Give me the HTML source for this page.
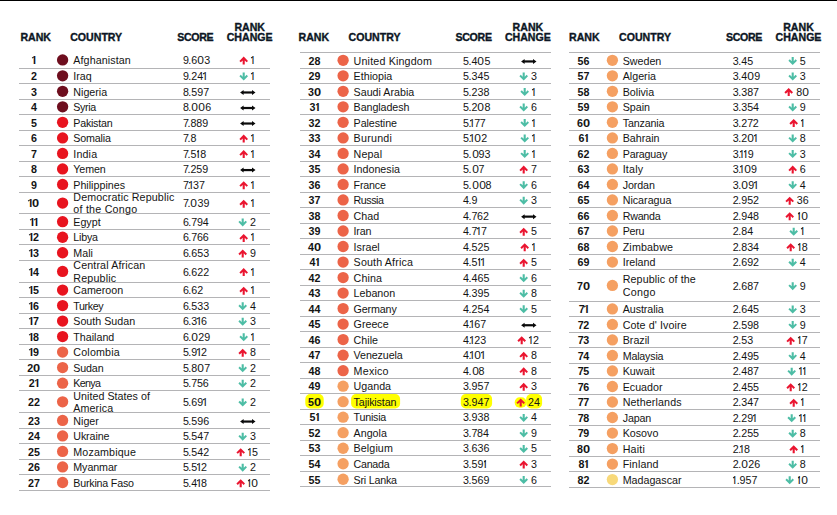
<!DOCTYPE html>
<html><head><meta charset="utf-8"><style>
*{margin:0;padding:0;box-sizing:border-box}
html,body{width:837px;height:515px;overflow:hidden;background:#fff}
body{position:relative;font-family:"Liberation Sans",sans-serif;color:#141414;font-size:10.70px}
.t{position:absolute;white-space:nowrap;line-height:12px;height:12px}
.h{position:absolute;white-space:nowrap;font-weight:bold;font-size:10.6px;line-height:12px;color:#0c1624;-webkit-text-stroke:0.35px #0c1624}
.c{text-align:center}
.b{font-weight:bold}
.o{display:inline-block;width:3.85px;padding-left:0.45px;position:relative}
.o::before{content:'';position:absolute;left:0.15px;top:2.9px;width:1.6px;height:1.1px;background:currentColor;transform:rotate(-38deg)}
.b .o{width:4.2px;padding-left:1.2px}
.b .o::before{left:0.3px;top:2.6px;width:2px;height:1.3px}
.z{display:inline-block;width:7px;text-align:center;transform:scaleX(1.12)}
.b .z{width:7.3px;transform:scaleX(1.2)}
.rc{position:absolute;white-space:nowrap;line-height:12px;height:12px;display:flex;align-items:flex-start;justify-content:center}
.ar{display:block;margin-right:2px}
.dar{display:block}
svg.ov{position:absolute;left:0;top:0}
</style></head><body>

<svg class="ov" width="837" height="515" viewBox="0 0 837 515">
<rect x="0" y="0" width="837" height="1" fill="#000"/>
<rect x="19" y="68" width="251" height="1" fill="#b4b4b6"/>
<rect x="19" y="83" width="251" height="1" fill="#b4b4b6"/>
<rect x="19" y="99" width="251" height="1" fill="#b4b4b6"/>
<rect x="19" y="114" width="251" height="1" fill="#b4b4b6"/>
<rect x="19" y="130" width="251" height="1" fill="#b4b4b6"/>
<rect x="19" y="145" width="251" height="1" fill="#b4b4b6"/>
<rect x="19" y="161" width="251" height="1" fill="#b4b4b6"/>
<rect x="19" y="176" width="251" height="1" fill="#b4b4b6"/>
<rect x="19" y="192" width="251" height="1" fill="#b4b4b6"/>
<rect x="19" y="213" width="251" height="1" fill="#b4b4b6"/>
<rect x="19" y="229" width="251" height="1" fill="#b4b4b6"/>
<rect x="19" y="244" width="251" height="1" fill="#b4b4b6"/>
<rect x="19" y="260" width="251" height="1" fill="#b4b4b6"/>
<rect x="19" y="282" width="251" height="1" fill="#b4b4b6"/>
<rect x="19" y="297" width="251" height="1" fill="#b4b4b6"/>
<rect x="19" y="313" width="251" height="1" fill="#b4b4b6"/>
<rect x="19" y="328" width="251" height="1" fill="#b4b4b6"/>
<rect x="19" y="344" width="251" height="1" fill="#b4b4b6"/>
<rect x="19" y="359" width="251" height="1" fill="#b4b4b6"/>
<rect x="19" y="375" width="251" height="1" fill="#b4b4b6"/>
<rect x="19" y="390" width="251" height="1" fill="#b4b4b6"/>
<rect x="19" y="412" width="251" height="1" fill="#b4b4b6"/>
<rect x="19" y="428" width="251" height="1" fill="#b4b4b6"/>
<rect x="19" y="443" width="251" height="1" fill="#b4b4b6"/>
<rect x="19" y="459" width="251" height="1" fill="#b4b4b6"/>
<rect x="19" y="474" width="251" height="1" fill="#b4b4b6"/>
<rect x="19" y="490" width="251" height="1" fill="#b4b4b6"/>
<circle cx="62.60" cy="59.90" r="5.65" fill="#6e0e1e"/>
<circle cx="62.60" cy="75.82" r="5.65" fill="#6e0e1e"/>
<circle cx="62.60" cy="91.33" r="5.65" fill="#6e0e1e"/>
<circle cx="62.60" cy="106.85" r="5.65" fill="#6e0e1e"/>
<circle cx="62.60" cy="122.37" r="5.65" fill="#e8141f"/>
<circle cx="62.60" cy="137.89" r="5.65" fill="#e8141f"/>
<circle cx="62.60" cy="153.41" r="5.65" fill="#e8141f"/>
<circle cx="62.60" cy="168.92" r="5.65" fill="#e8141f"/>
<circle cx="62.60" cy="184.44" r="5.65" fill="#e8141f"/>
<circle cx="62.60" cy="203.09" r="5.65" fill="#e8141f"/>
<circle cx="62.60" cy="221.72" r="5.65" fill="#e8141f"/>
<circle cx="62.60" cy="237.24" r="5.65" fill="#e8141f"/>
<circle cx="62.60" cy="252.75" r="5.65" fill="#e8141f"/>
<circle cx="62.60" cy="271.40" r="5.65" fill="#e8141f"/>
<circle cx="62.60" cy="290.03" r="5.65" fill="#e8141f"/>
<circle cx="62.60" cy="305.55" r="5.65" fill="#e8141f"/>
<circle cx="62.60" cy="321.07" r="5.65" fill="#e8141f"/>
<circle cx="62.60" cy="336.58" r="5.65" fill="#e8141f"/>
<circle cx="62.60" cy="352.10" r="5.65" fill="#ec6448"/>
<circle cx="62.60" cy="367.62" r="5.65" fill="#ec6448"/>
<circle cx="62.60" cy="383.13" r="5.65" fill="#ec6448"/>
<circle cx="62.60" cy="401.78" r="5.65" fill="#ec6448"/>
<circle cx="62.60" cy="420.41" r="5.65" fill="#ec6448"/>
<circle cx="62.60" cy="435.93" r="5.65" fill="#ec6448"/>
<circle cx="62.60" cy="451.45" r="5.65" fill="#ec6448"/>
<circle cx="62.60" cy="466.96" r="5.65" fill="#ec6448"/>
<circle cx="62.60" cy="482.48" r="5.65" fill="#ec6448"/>
<rect x="300" y="52" width="251" height="1" fill="#b4b4b6"/>
<rect x="300" y="68" width="251" height="1" fill="#b4b4b6"/>
<rect x="300" y="83" width="251" height="1" fill="#b4b4b6"/>
<rect x="300" y="99" width="251" height="1" fill="#b4b4b6"/>
<rect x="300" y="114" width="251" height="1" fill="#b4b4b6"/>
<rect x="300" y="130" width="251" height="1" fill="#b4b4b6"/>
<rect x="300" y="145" width="251" height="1" fill="#b4b4b6"/>
<rect x="300" y="161" width="251" height="1" fill="#b4b4b6"/>
<rect x="300" y="176" width="251" height="1" fill="#b4b4b6"/>
<rect x="300" y="192" width="251" height="1" fill="#b4b4b6"/>
<rect x="300" y="207" width="251" height="1" fill="#b4b4b6"/>
<rect x="300" y="223" width="251" height="1" fill="#b4b4b6"/>
<rect x="300" y="238" width="251" height="1" fill="#b4b4b6"/>
<rect x="300" y="254" width="251" height="1" fill="#b4b4b6"/>
<rect x="300" y="269" width="251" height="1" fill="#b4b4b6"/>
<rect x="300" y="285" width="251" height="1" fill="#b4b4b6"/>
<rect x="300" y="300" width="251" height="1" fill="#b4b4b6"/>
<rect x="300" y="316" width="251" height="1" fill="#b4b4b6"/>
<rect x="300" y="331" width="251" height="1" fill="#b4b4b6"/>
<rect x="300" y="347" width="251" height="1" fill="#b4b4b6"/>
<rect x="300" y="362" width="251" height="1" fill="#b4b4b6"/>
<rect x="300" y="378" width="251" height="1" fill="#b4b4b6"/>
<rect x="300" y="393" width="251" height="1" fill="#b4b4b6"/>
<rect x="300" y="409" width="251" height="1" fill="#b4b4b6"/>
<rect x="300" y="424" width="251" height="1" fill="#b4b4b6"/>
<rect x="300" y="440" width="251" height="1" fill="#b4b4b6"/>
<rect x="300" y="455" width="251" height="1" fill="#b4b4b6"/>
<rect x="300" y="471" width="251" height="1" fill="#b4b4b6"/>
<rect x="300" y="486" width="251" height="1" fill="#b4b4b6"/>
<circle cx="343.10" cy="60.30" r="5.65" fill="#ec6448"/>
<circle cx="343.10" cy="75.82" r="5.65" fill="#ec6448"/>
<circle cx="343.10" cy="91.33" r="5.65" fill="#ec6448"/>
<circle cx="343.10" cy="106.85" r="5.65" fill="#ec6448"/>
<circle cx="343.10" cy="122.37" r="5.65" fill="#ec6448"/>
<circle cx="343.10" cy="137.89" r="5.65" fill="#ec6448"/>
<circle cx="343.10" cy="153.41" r="5.65" fill="#ec6448"/>
<circle cx="343.10" cy="168.92" r="5.65" fill="#ec6448"/>
<circle cx="343.10" cy="184.44" r="5.65" fill="#ec6448"/>
<circle cx="343.10" cy="199.96" r="5.65" fill="#ec6448"/>
<circle cx="343.10" cy="215.48" r="5.65" fill="#ec6448"/>
<circle cx="343.10" cy="230.99" r="5.65" fill="#ec6448"/>
<circle cx="343.10" cy="246.51" r="5.65" fill="#ec6448"/>
<circle cx="343.10" cy="262.03" r="5.65" fill="#ec6448"/>
<circle cx="343.10" cy="277.55" r="5.65" fill="#ec6448"/>
<circle cx="343.10" cy="293.06" r="5.65" fill="#ec6448"/>
<circle cx="343.10" cy="308.58" r="5.65" fill="#ec6448"/>
<circle cx="343.10" cy="324.10" r="5.65" fill="#ec6448"/>
<circle cx="343.10" cy="339.62" r="5.65" fill="#ec6448"/>
<circle cx="343.10" cy="355.13" r="5.65" fill="#ec6448"/>
<circle cx="343.10" cy="370.65" r="5.65" fill="#ec6448"/>
<circle cx="343.10" cy="386.17" r="5.65" fill="#f5a062"/>
<rect x="305.3" y="394.0" width="18.4" height="14.5" rx="5" ry="5" fill="#ffff00"/>
<rect x="351.1" y="394.0" width="49.0" height="14.5" rx="5" ry="5" fill="#ffff00"/>
<rect x="460.8" y="394.0" width="31.3" height="14.5" rx="5" ry="5" fill="#ffff00"/>
<rect x="514.7" y="397.3" width="11.8" height="10.4" rx="5" ry="5" fill="#ffff00"/>
<rect x="526.2" y="394.0" width="15.9" height="14.5" rx="5" ry="5" fill="#ffff00"/>
<circle cx="343.10" cy="401.69" r="5.65" fill="#f5a062"/>
<circle cx="343.10" cy="417.20" r="5.65" fill="#f5a062"/>
<circle cx="343.10" cy="432.72" r="5.65" fill="#f5a062"/>
<circle cx="343.10" cy="448.24" r="5.65" fill="#f5a062"/>
<circle cx="343.10" cy="463.75" r="5.65" fill="#f5a062"/>
<circle cx="343.10" cy="479.27" r="5.65" fill="#f5a062"/>
<rect x="569" y="52" width="251" height="1" fill="#b4b4b6"/>
<rect x="569" y="68" width="251" height="1" fill="#b4b4b6"/>
<rect x="569" y="83" width="251" height="1" fill="#b4b4b6"/>
<rect x="569" y="99" width="251" height="1" fill="#b4b4b6"/>
<rect x="569" y="114" width="251" height="1" fill="#b4b4b6"/>
<rect x="569" y="130" width="251" height="1" fill="#b4b4b6"/>
<rect x="569" y="145" width="251" height="1" fill="#b4b4b6"/>
<rect x="569" y="161" width="251" height="1" fill="#b4b4b6"/>
<rect x="569" y="176" width="251" height="1" fill="#b4b4b6"/>
<rect x="569" y="192" width="251" height="1" fill="#b4b4b6"/>
<rect x="569" y="207" width="251" height="1" fill="#b4b4b6"/>
<rect x="569" y="223" width="251" height="1" fill="#b4b4b6"/>
<rect x="569" y="238" width="251" height="1" fill="#b4b4b6"/>
<rect x="569" y="254" width="251" height="1" fill="#b4b4b6"/>
<rect x="569" y="269" width="251" height="1" fill="#b4b4b6"/>
<rect x="569" y="301" width="251" height="1" fill="#b4b4b6"/>
<rect x="569" y="316" width="251" height="1" fill="#b4b4b6"/>
<rect x="569" y="332" width="251" height="1" fill="#b4b4b6"/>
<rect x="569" y="347" width="251" height="1" fill="#b4b4b6"/>
<rect x="569" y="363" width="251" height="1" fill="#b4b4b6"/>
<rect x="569" y="378" width="251" height="1" fill="#b4b4b6"/>
<rect x="569" y="394" width="251" height="1" fill="#b4b4b6"/>
<rect x="569" y="409" width="251" height="1" fill="#b4b4b6"/>
<rect x="569" y="425" width="251" height="1" fill="#b4b4b6"/>
<rect x="569" y="440" width="251" height="1" fill="#b4b4b6"/>
<rect x="569" y="456" width="251" height="1" fill="#b4b4b6"/>
<rect x="569" y="471" width="251" height="1" fill="#b4b4b6"/>
<rect x="569" y="487" width="251" height="1" fill="#b4b4b6"/>
<circle cx="612.40" cy="60.30" r="5.65" fill="#f5a062"/>
<circle cx="612.40" cy="75.82" r="5.65" fill="#f5a062"/>
<circle cx="612.40" cy="91.33" r="5.65" fill="#f5a062"/>
<circle cx="612.40" cy="106.85" r="5.65" fill="#f5a062"/>
<circle cx="612.40" cy="122.37" r="5.65" fill="#f5a062"/>
<circle cx="612.40" cy="137.89" r="5.65" fill="#f5a062"/>
<circle cx="612.40" cy="153.41" r="5.65" fill="#f5a062"/>
<circle cx="612.40" cy="168.92" r="5.65" fill="#f5a062"/>
<circle cx="612.40" cy="184.44" r="5.65" fill="#f5a062"/>
<circle cx="612.40" cy="199.96" r="5.65" fill="#f5a062"/>
<circle cx="612.40" cy="215.48" r="5.65" fill="#f5a062"/>
<circle cx="612.40" cy="230.99" r="5.65" fill="#f5a062"/>
<circle cx="612.40" cy="246.51" r="5.65" fill="#f5a062"/>
<circle cx="612.40" cy="262.03" r="5.65" fill="#f5a062"/>
<circle cx="612.40" cy="285.47" r="5.65" fill="#f5a062"/>
<circle cx="612.40" cy="308.90" r="5.65" fill="#f5a062"/>
<circle cx="612.40" cy="324.42" r="5.65" fill="#f5a062"/>
<circle cx="612.40" cy="339.94" r="5.65" fill="#f5a062"/>
<circle cx="612.40" cy="355.45" r="5.65" fill="#f5a062"/>
<circle cx="612.40" cy="370.97" r="5.65" fill="#f5a062"/>
<circle cx="612.40" cy="386.49" r="5.65" fill="#f5a062"/>
<circle cx="612.40" cy="402.01" r="5.65" fill="#f5a062"/>
<circle cx="612.40" cy="417.52" r="5.65" fill="#f5a062"/>
<circle cx="612.40" cy="433.04" r="5.65" fill="#f5a062"/>
<circle cx="612.40" cy="448.56" r="5.65" fill="#f5a062"/>
<circle cx="612.40" cy="464.07" r="5.65" fill="#f5a062"/>
<circle cx="612.40" cy="479.59" r="5.65" fill="#f8d97a"/>
</svg>
<div class="h" style="left:20.4px;top:30.7px;">RANK</div>
<div class="h" style="left:70.2px;top:30.7px;">COUNTRY</div>
<div class="h" style="left:177.2px;top:30.7px;letter-spacing:-0.3px">SCORE</div>
<div class="h" style="left:219.7px;top:30.7px;width:60px;text-align:center">CHANGE</div>
<div class="h" style="left:219.7px;top:20.8px;width:60px;text-align:center">RANK</div>
<div class="t c" style="left:18.9px;top:54.0px;width:30px"><span class="b"><span class="o">I</span></span></div>
<div class="t" style="left:73.3px;top:54.0px;letter-spacing:0.1px">Afghanistan</div>
<div class="t" style="left:182.9px;top:54.0px;"><span style="margin-right:-0.5px">9</span>.6<span class="z">0</span>3</div>
<div class="rc" style="left:227.0px;top:54.0px;width:40px"><svg class="ar" width="10" height="12" viewBox="0 0 10 12"><path transform="translate(0.4 1.80)" d="M4.3 0.8 L8.6 5.1 L7.19 6.51 L5.35 4.67 V8.8 H3.25 V4.67 L1.41 6.51 L0 5.1 Z" fill="#ea1530"/></svg><span><span class="o">I</span></span></div>
<div class="t c" style="left:18.9px;top:70.0px;width:30px"><span class="b">2</span></div>
<div class="t" style="left:73.3px;top:70.0px;">Iraq</div>
<div class="t" style="left:182.9px;top:70.0px;"><span style="margin-right:-0.5px">9</span>.24<span class="o">I</span></div>
<div class="rc" style="left:227.0px;top:70.0px;width:40px"><svg class="ar" width="10" height="12" viewBox="0 0 10 12"><path transform="translate(0.4 1.72)" d="M4.3 8.8 L8.6 4.5 L7.19 3.09 L5.35 4.93 V0.8 H3.25 V4.93 L1.41 3.09 L0 4.5 Z" fill="#4dbda5"/></svg><span><span class="o">I</span></span></div>
<div class="t c" style="left:18.9px;top:86.0px;width:30px"><span class="b">3</span></div>
<div class="t" style="left:73.3px;top:86.0px;">Nigeria</div>
<div class="t" style="left:182.9px;top:86.0px;"><span style="margin-right:-0.5px">8</span>.597</div>
<div class="rc" style="left:227.0px;top:86.0px;width:40px"><svg class="dar" width="17" height="12" viewBox="0 0 17 12"><g transform="translate(0 2.98)" fill="#0a0a0a"><path d="M1.1 3.5 L4.6 1.0 V6.0 Z M16.5 3.5 L13.0 1.0 V6.0 Z"/><rect x="4" y="2.4" width="9.5" height="2.2"/></g></svg></div>
<div class="t c" style="left:18.9px;top:101.0px;width:30px"><span class="b">4</span></div>
<div class="t" style="left:73.3px;top:101.0px;letter-spacing:-0.35px">Syria</div>
<div class="t" style="left:182.9px;top:101.0px;"><span style="margin-right:-0.5px">8</span>.<span class="z">0</span><span class="z">0</span>6</div>
<div class="rc" style="left:227.0px;top:101.0px;width:40px"><svg class="dar" width="17" height="12" viewBox="0 0 17 12"><g transform="translate(0 3.50)" fill="#0a0a0a"><path d="M1.1 3.5 L4.6 1.0 V6.0 Z M16.5 3.5 L13.0 1.0 V6.0 Z"/><rect x="4" y="2.4" width="9.5" height="2.2"/></g></svg></div>
<div class="t c" style="left:18.9px;top:117.0px;width:30px"><span class="b">5</span></div>
<div class="t" style="left:73.3px;top:117.0px;letter-spacing:-0.243px">Pakistan</div>
<div class="t" style="left:182.9px;top:117.0px;"><span style="margin-right:-1.4px">7</span>.889</div>
<div class="rc" style="left:227.0px;top:117.0px;width:40px"><svg class="dar" width="17" height="12" viewBox="0 0 17 12"><g transform="translate(0 3.02)" fill="#0a0a0a"><path d="M1.1 3.5 L4.6 1.0 V6.0 Z M16.5 3.5 L13.0 1.0 V6.0 Z"/><rect x="4" y="2.4" width="9.5" height="2.2"/></g></svg></div>
<div class="t c" style="left:18.9px;top:132.0px;width:30px"><span class="b">6</span></div>
<div class="t" style="left:73.3px;top:132.0px;letter-spacing:-0.167px">Somalia</div>
<div class="t" style="left:182.9px;top:132.0px;"><span style="margin-right:-1.4px">7</span>.8</div>
<div class="rc" style="left:227.0px;top:132.0px;width:40px"><svg class="ar" width="10" height="12" viewBox="0 0 10 12"><path transform="translate(0.4 1.79)" d="M4.3 0.8 L8.6 5.1 L7.19 6.51 L5.35 4.67 V8.8 H3.25 V4.67 L1.41 6.51 L0 5.1 Z" fill="#ea1530"/></svg><span><span class="o">I</span></span></div>
<div class="t c" style="left:18.9px;top:148.0px;width:30px"><span class="b">7</span></div>
<div class="t" style="left:73.3px;top:148.0px;letter-spacing:0.15px">India</div>
<div class="t" style="left:182.9px;top:148.0px;"><span style="margin-right:-1.4px">7</span>.5<span class="o">I</span>8</div>
<div class="rc" style="left:227.0px;top:148.0px;width:40px"><svg class="ar" width="10" height="12" viewBox="0 0 10 12"><path transform="translate(0.4 1.31)" d="M4.3 0.8 L8.6 5.1 L7.19 6.51 L5.35 4.67 V8.8 H3.25 V4.67 L1.41 6.51 L0 5.1 Z" fill="#ea1530"/></svg><span><span class="o">I</span></span></div>
<div class="t c" style="left:18.9px;top:163.0px;width:30px"><span class="b">8</span></div>
<div class="t" style="left:73.3px;top:163.0px;letter-spacing:-0.125px">Yemen</div>
<div class="t" style="left:182.9px;top:163.0px;"><span style="margin-right:-1.4px">7</span>.259</div>
<div class="rc" style="left:227.0px;top:163.0px;width:40px"><svg class="dar" width="17" height="12" viewBox="0 0 17 12"><g transform="translate(0 3.57)" fill="#0a0a0a"><path d="M1.1 3.5 L4.6 1.0 V6.0 Z M16.5 3.5 L13.0 1.0 V6.0 Z"/><rect x="4" y="2.4" width="9.5" height="2.2"/></g></svg></div>
<div class="t c" style="left:18.9px;top:179.0px;width:30px"><span class="b">9</span></div>
<div class="t" style="left:73.3px;top:179.0px;">Philippines</div>
<div class="t" style="left:182.9px;top:179.0px;"><span style="margin-right:-1.4px">7</span><span style="margin-right:-1.2px">.</span><span class="o">I</span>37</div>
<div class="rc" style="left:227.0px;top:179.0px;width:40px"><svg class="ar" width="10" height="12" viewBox="0 0 10 12"><path transform="translate(0.4 1.34)" d="M4.3 0.8 L8.6 5.1 L7.19 6.51 L5.35 4.67 V8.8 H3.25 V4.67 L1.41 6.51 L0 5.1 Z" fill="#ea1530"/></svg><span><span class="o">I</span></span></div>
<div class="t c" style="left:18.9px;top:197.0px;width:30px"><span class="b"><span class="o">I</span><span class="z">0</span></span></div>
<div class="t" style="left:73.3px;top:191.0px;letter-spacing:0.133px">Democratic Republic</div>
<div class="t" style="left:73.3px;top:203.0px;letter-spacing:0.236px">of the Congo</div>
<div class="t" style="left:182.9px;top:197.0px;"><span style="margin-right:-1.4px">7</span>.<span class="z">0</span>39</div>
<div class="rc" style="left:227.0px;top:197.0px;width:40px"><svg class="ar" width="10" height="12" viewBox="0 0 10 12"><path transform="translate(0.4 1.99)" d="M4.3 0.8 L8.6 5.1 L7.19 6.51 L5.35 4.67 V8.8 H3.25 V4.67 L1.41 6.51 L0 5.1 Z" fill="#ea1530"/></svg><span><span class="o">I</span></span></div>
<div class="t c" style="left:18.9px;top:216.0px;width:30px"><span class="b"><span class="o">I</span><span class="o">I</span></span></div>
<div class="t" style="left:73.3px;top:216.0px;">Egypt</div>
<div class="t" style="left:182.9px;top:216.0px;"><span style="margin-right:-0.5px">6</span>.<span style="margin-right:-0.4px">7</span>94</div>
<div class="rc" style="left:227.0px;top:216.0px;width:40px"><svg class="ar" width="10" height="12" viewBox="0 0 10 12"><path transform="translate(0.4 1.62)" d="M4.3 8.8 L8.6 4.5 L7.19 3.09 L5.35 4.93 V0.8 H3.25 V4.93 L1.41 3.09 L0 4.5 Z" fill="#4dbda5"/></svg><span>2</span></div>
<div class="t c" style="left:18.9px;top:231.0px;width:30px"><span class="b"><span class="o">I</span>2</span></div>
<div class="t" style="left:73.3px;top:231.0px;letter-spacing:-0.2px">Libya</div>
<div class="t" style="left:182.9px;top:231.0px;"><span style="margin-right:-0.5px">6</span>.<span style="margin-right:-0.4px">7</span>66</div>
<div class="rc" style="left:227.0px;top:231.0px;width:40px"><svg class="ar" width="10" height="12" viewBox="0 0 10 12"><path transform="translate(0.4 2.14)" d="M4.3 0.8 L8.6 5.1 L7.19 6.51 L5.35 4.67 V8.8 H3.25 V4.67 L1.41 6.51 L0 5.1 Z" fill="#ea1530"/></svg><span><span class="o">I</span></span></div>
<div class="t c" style="left:18.9px;top:247.0px;width:30px"><span class="b"><span class="o">I</span>3</span></div>
<div class="t" style="left:73.3px;top:247.0px;">Mali</div>
<div class="t" style="left:182.9px;top:247.0px;"><span style="margin-right:-0.5px">6</span>.653</div>
<div class="rc" style="left:227.0px;top:247.0px;width:40px"><svg class="ar" width="10" height="12" viewBox="0 0 10 12"><path transform="translate(0.4 1.65)" d="M4.3 0.8 L8.6 5.1 L7.19 6.51 L5.35 4.67 V8.8 H3.25 V4.67 L1.41 6.51 L0 5.1 Z" fill="#ea1530"/></svg><span>9</span></div>
<div class="t c" style="left:18.9px;top:266.0px;width:30px"><span class="b"><span class="o">I</span>4</span></div>
<div class="t" style="left:73.3px;top:259.0px;letter-spacing:0.129px">Central African</div>
<div class="t" style="left:73.3px;top:272.0px;letter-spacing:0.186px">Republic</div>
<div class="t" style="left:182.9px;top:266.0px;"><span style="margin-right:-0.5px">6</span>.622</div>
<div class="rc" style="left:227.0px;top:266.0px;width:40px"><svg class="ar" width="10" height="12" viewBox="0 0 10 12"><path transform="translate(0.4 1.30)" d="M4.3 0.8 L8.6 5.1 L7.19 6.51 L5.35 4.67 V8.8 H3.25 V4.67 L1.41 6.51 L0 5.1 Z" fill="#ea1530"/></svg><span><span class="o">I</span></span></div>
<div class="t c" style="left:18.9px;top:284.0px;width:30px"><span class="b"><span class="o">I</span>5</span></div>
<div class="t" style="left:73.3px;top:284.0px;">Cameroon</div>
<div class="t" style="left:182.9px;top:284.0px;"><span style="margin-right:-0.5px">6</span>.62</div>
<div class="rc" style="left:227.0px;top:284.0px;width:40px"><svg class="ar" width="10" height="12" viewBox="0 0 10 12"><path transform="translate(0.4 1.93)" d="M4.3 0.8 L8.6 5.1 L7.19 6.51 L5.35 4.67 V8.8 H3.25 V4.67 L1.41 6.51 L0 5.1 Z" fill="#ea1530"/></svg><span><span class="o">I</span></span></div>
<div class="t c" style="left:18.9px;top:300.0px;width:30px"><span class="b"><span class="o">I</span>6</span></div>
<div class="t" style="left:73.3px;top:300.0px;letter-spacing:-0.38px">Turkey</div>
<div class="t" style="left:182.9px;top:300.0px;"><span style="margin-right:-0.5px">6</span>.533</div>
<div class="rc" style="left:227.0px;top:300.0px;width:40px"><svg class="ar" width="10" height="12" viewBox="0 0 10 12"><path transform="translate(0.4 1.45)" d="M4.3 8.8 L8.6 4.5 L7.19 3.09 L5.35 4.93 V0.8 H3.25 V4.93 L1.41 3.09 L0 4.5 Z" fill="#4dbda5"/></svg><span>4</span></div>
<div class="t c" style="left:18.9px;top:315.0px;width:30px"><span class="b"><span class="o">I</span>7</span></div>
<div class="t" style="left:73.3px;top:315.0px;">South Sudan</div>
<div class="t" style="left:182.9px;top:315.0px;"><span style="margin-right:-0.5px">6</span>.3<span class="o">I</span>6</div>
<div class="rc" style="left:227.0px;top:315.0px;width:40px"><svg class="ar" width="10" height="12" viewBox="0 0 10 12"><path transform="translate(0.4 1.97)" d="M4.3 8.8 L8.6 4.5 L7.19 3.09 L5.35 4.93 V0.8 H3.25 V4.93 L1.41 3.09 L0 4.5 Z" fill="#4dbda5"/></svg><span>3</span></div>
<div class="t c" style="left:18.9px;top:331.0px;width:30px"><span class="b"><span class="o">I</span>8</span></div>
<div class="t" style="left:73.3px;top:331.0px;">Thailand</div>
<div class="t" style="left:182.9px;top:331.0px;"><span style="margin-right:-0.5px">6</span>.<span class="z">0</span>29</div>
<div class="rc" style="left:227.0px;top:331.0px;width:40px"><svg class="ar" width="10" height="12" viewBox="0 0 10 12"><path transform="translate(0.4 1.48)" d="M4.3 8.8 L8.6 4.5 L7.19 3.09 L5.35 4.93 V0.8 H3.25 V4.93 L1.41 3.09 L0 4.5 Z" fill="#4dbda5"/></svg><span><span class="o">I</span></span></div>
<div class="t c" style="left:18.9px;top:346.0px;width:30px"><span class="b"><span class="o">I</span>9</span></div>
<div class="t" style="left:73.3px;top:346.0px;letter-spacing:0.186px">Colombia</div>
<div class="t" style="left:182.9px;top:346.0px;"><span style="margin-right:-0.5px">5</span>.9<span class="o">I</span>2</div>
<div class="rc" style="left:227.0px;top:346.0px;width:40px"><svg class="ar" width="10" height="12" viewBox="0 0 10 12"><path transform="translate(0.4 2.00)" d="M4.3 0.8 L8.6 5.1 L7.19 6.51 L5.35 4.67 V8.8 H3.25 V4.67 L1.41 6.51 L0 5.1 Z" fill="#ea1530"/></svg><span>8</span></div>
<div class="t c" style="left:18.9px;top:362.0px;width:30px"><span class="b">2<span class="z">0</span></span></div>
<div class="t" style="left:73.3px;top:362.0px;letter-spacing:-0.15px">Sudan</div>
<div class="t" style="left:182.9px;top:362.0px;"><span style="margin-right:-0.5px">5</span>.8<span class="z">0</span>7</div>
<div class="rc" style="left:227.0px;top:362.0px;width:40px"><svg class="ar" width="10" height="12" viewBox="0 0 10 12"><path transform="translate(0.4 1.52)" d="M4.3 8.8 L8.6 4.5 L7.19 3.09 L5.35 4.93 V0.8 H3.25 V4.93 L1.41 3.09 L0 4.5 Z" fill="#4dbda5"/></svg><span>2</span></div>
<div class="t c" style="left:18.9px;top:377.0px;width:30px"><span class="b">2<span class="o">I</span></span></div>
<div class="t" style="left:73.3px;top:377.0px;letter-spacing:-0.65px">Kenya</div>
<div class="t" style="left:182.9px;top:377.0px;"><span style="margin-right:-0.5px">5</span>.<span style="margin-right:-0.4px">7</span>56</div>
<div class="rc" style="left:227.0px;top:377.0px;width:40px"><svg class="ar" width="10" height="12" viewBox="0 0 10 12"><path transform="translate(0.4 2.03)" d="M4.3 8.8 L8.6 4.5 L7.19 3.09 L5.35 4.93 V0.8 H3.25 V4.93 L1.41 3.09 L0 4.5 Z" fill="#4dbda5"/></svg><span>2</span></div>
<div class="t c" style="left:18.9px;top:396.0px;width:30px"><span class="b">22</span></div>
<div class="t" style="left:73.3px;top:390.0px;letter-spacing:0.04px">United States of</div>
<div class="t" style="left:73.3px;top:402.0px;letter-spacing:0.117px">America</div>
<div class="t" style="left:182.9px;top:396.0px;"><span style="margin-right:-0.5px">5</span>.69<span class="o">I</span></div>
<div class="rc" style="left:227.0px;top:396.0px;width:40px"><svg class="ar" width="10" height="12" viewBox="0 0 10 12"><path transform="translate(0.4 1.68)" d="M4.3 8.8 L8.6 4.5 L7.19 3.09 L5.35 4.93 V0.8 H3.25 V4.93 L1.41 3.09 L0 4.5 Z" fill="#4dbda5"/></svg><span>2</span></div>
<div class="t c" style="left:18.9px;top:415.0px;width:30px"><span class="b">23</span></div>
<div class="t" style="left:73.3px;top:415.0px;">Niger</div>
<div class="t" style="left:182.9px;top:415.0px;"><span style="margin-right:-0.5px">5</span>.596</div>
<div class="rc" style="left:227.0px;top:415.0px;width:40px"><svg class="dar" width="17" height="12" viewBox="0 0 17 12"><g transform="translate(0 3.06)" fill="#0a0a0a"><path d="M1.1 3.5 L4.6 1.0 V6.0 Z M16.5 3.5 L13.0 1.0 V6.0 Z"/><rect x="4" y="2.4" width="9.5" height="2.2"/></g></svg></div>
<div class="t c" style="left:18.9px;top:430.0px;width:30px"><span class="b">24</span></div>
<div class="t" style="left:73.3px;top:430.0px;letter-spacing:-0.117px">Ukraine</div>
<div class="t" style="left:182.9px;top:430.0px;"><span style="margin-right:-0.5px">5</span>.547</div>
<div class="rc" style="left:227.0px;top:430.0px;width:40px"><svg class="ar" width="10" height="12" viewBox="0 0 10 12"><path transform="translate(0.4 1.83)" d="M4.3 8.8 L8.6 4.5 L7.19 3.09 L5.35 4.93 V0.8 H3.25 V4.93 L1.41 3.09 L0 4.5 Z" fill="#4dbda5"/></svg><span>3</span></div>
<div class="t c" style="left:18.9px;top:446.0px;width:30px"><span class="b">25</span></div>
<div class="t" style="left:73.3px;top:446.0px;letter-spacing:0.156px">Mozambique</div>
<div class="t" style="left:182.9px;top:446.0px;"><span style="margin-right:-0.5px">5</span>.542</div>
<div class="rc" style="left:227.0px;top:446.0px;width:40px"><svg class="ar" width="10" height="12" viewBox="0 0 10 12"><path transform="translate(0.4 1.35)" d="M4.3 0.8 L8.6 5.1 L7.19 6.51 L5.35 4.67 V8.8 H3.25 V4.67 L1.41 6.51 L0 5.1 Z" fill="#ea1530"/></svg><span><span class="o">I</span>5</span></div>
<div class="t c" style="left:18.9px;top:461.0px;width:30px"><span class="b">26</span></div>
<div class="t" style="left:73.3px;top:461.0px;letter-spacing:-0.083px">Myanmar</div>
<div class="t" style="left:182.9px;top:461.0px;"><span style="margin-right:-0.5px">5</span>.5<span class="o">I</span>2</div>
<div class="rc" style="left:227.0px;top:461.0px;width:40px"><svg class="ar" width="10" height="12" viewBox="0 0 10 12"><path transform="translate(0.4 1.86)" d="M4.3 8.8 L8.6 4.5 L7.19 3.09 L5.35 4.93 V0.8 H3.25 V4.93 L1.41 3.09 L0 4.5 Z" fill="#4dbda5"/></svg><span>2</span></div>
<div class="t c" style="left:18.9px;top:477.0px;width:30px"><span class="b">27</span></div>
<div class="t" style="left:73.3px;top:477.0px;letter-spacing:-0.209px">Burkina Faso</div>
<div class="t" style="left:182.9px;top:477.0px;"><span style="margin-right:-0.5px">5</span>.4<span class="o">I</span>8</div>
<div class="rc" style="left:227.0px;top:477.0px;width:40px"><svg class="ar" width="10" height="12" viewBox="0 0 10 12"><path transform="translate(0.4 1.38)" d="M4.3 0.8 L8.6 5.1 L7.19 6.51 L5.35 4.67 V8.8 H3.25 V4.67 L1.41 6.51 L0 5.1 Z" fill="#ea1530"/></svg><span><span class="o">I</span><span class="z">0</span></span></div>
<div class="h" style="left:298.5px;top:30.7px;">RANK</div>
<div class="h" style="left:348.5px;top:30.7px;">COUNTRY</div>
<div class="h" style="left:455.5px;top:30.7px;letter-spacing:-0.3px">SCORE</div>
<div class="h" style="left:497.9px;top:30.7px;width:60px;text-align:center">CHANGE</div>
<div class="h" style="left:497.9px;top:20.8px;width:60px;text-align:center">RANK</div>
<div class="t c" style="left:299.5px;top:55.0px;width:30px"><span class="b">28</span></div>
<div class="t" style="left:353.6px;top:55.0px;letter-spacing:0.169px">United Kingdom</div>
<div class="t" style="left:463.1px;top:55.0px;"><span style="margin-right:-0.5px">5</span>.4<span class="z">0</span>5</div>
<div class="rc" style="left:508.0px;top:55.0px;width:40px"><svg class="dar" width="17" height="12" viewBox="0 0 17 12"><g transform="translate(0 2.95)" fill="#0a0a0a"><path d="M1.1 3.5 L4.6 1.0 V6.0 Z M16.5 3.5 L13.0 1.0 V6.0 Z"/><rect x="4" y="2.4" width="9.5" height="2.2"/></g></svg></div>
<div class="t c" style="left:299.5px;top:70.0px;width:30px"><span class="b">29</span></div>
<div class="t" style="left:353.6px;top:70.0px;">Ethiopia</div>
<div class="t" style="left:463.1px;top:70.0px;"><span style="margin-right:-0.5px">5</span>.345</div>
<div class="rc" style="left:508.0px;top:70.0px;width:40px"><svg class="ar" width="10" height="12" viewBox="0 0 10 12"><path transform="translate(0.4 1.72)" d="M4.3 8.8 L8.6 4.5 L7.19 3.09 L5.35 4.93 V0.8 H3.25 V4.93 L1.41 3.09 L0 4.5 Z" fill="#4dbda5"/></svg><span>3</span></div>
<div class="t c" style="left:299.5px;top:86.0px;width:30px"><span class="b">3<span class="z">0</span></span></div>
<div class="t" style="left:353.6px;top:86.0px;">Saudi Arabia</div>
<div class="t" style="left:463.1px;top:86.0px;"><span style="margin-right:-0.5px">5</span>.238</div>
<div class="rc" style="left:508.0px;top:86.0px;width:40px"><svg class="ar" width="10" height="12" viewBox="0 0 10 12"><path transform="translate(0.4 1.23)" d="M4.3 8.8 L8.6 4.5 L7.19 3.09 L5.35 4.93 V0.8 H3.25 V4.93 L1.41 3.09 L0 4.5 Z" fill="#4dbda5"/></svg><span><span class="o">I</span></span></div>
<div class="t c" style="left:299.5px;top:101.0px;width:30px"><span class="b">3<span class="o">I</span></span></div>
<div class="t" style="left:353.6px;top:101.0px;letter-spacing:-0.067px">Bangladesh</div>
<div class="t" style="left:463.1px;top:101.0px;"><span style="margin-right:-0.5px">5</span>.2<span class="z">0</span>8</div>
<div class="rc" style="left:508.0px;top:101.0px;width:40px"><svg class="ar" width="10" height="12" viewBox="0 0 10 12"><path transform="translate(0.4 1.75)" d="M4.3 8.8 L8.6 4.5 L7.19 3.09 L5.35 4.93 V0.8 H3.25 V4.93 L1.41 3.09 L0 4.5 Z" fill="#4dbda5"/></svg><span>6</span></div>
<div class="t c" style="left:299.5px;top:117.0px;width:30px"><span class="b">32</span></div>
<div class="t" style="left:353.6px;top:117.0px;letter-spacing:-0.075px">Palestine</div>
<div class="t" style="left:463.1px;top:117.0px;"><span style="margin-right:-0.5px">5</span><span style="margin-right:-1.2px">.</span><span class="o">I</span><span style="margin-right:-0.4px">7</span>7</div>
<div class="rc" style="left:508.0px;top:117.0px;width:40px"><svg class="ar" width="10" height="12" viewBox="0 0 10 12"><path transform="translate(0.4 1.27)" d="M4.3 8.8 L8.6 4.5 L7.19 3.09 L5.35 4.93 V0.8 H3.25 V4.93 L1.41 3.09 L0 4.5 Z" fill="#4dbda5"/></svg><span><span class="o">I</span></span></div>
<div class="t c" style="left:299.5px;top:132.0px;width:30px"><span class="b">33</span></div>
<div class="t" style="left:353.6px;top:132.0px;letter-spacing:0.25px">Burundi</div>
<div class="t" style="left:463.1px;top:132.0px;"><span style="margin-right:-0.5px">5</span><span style="margin-right:-1.2px">.</span><span class="o">I</span><span class="z">0</span>2</div>
<div class="rc" style="left:508.0px;top:132.0px;width:40px"><svg class="ar" width="10" height="12" viewBox="0 0 10 12"><path transform="translate(0.4 1.79)" d="M4.3 8.8 L8.6 4.5 L7.19 3.09 L5.35 4.93 V0.8 H3.25 V4.93 L1.41 3.09 L0 4.5 Z" fill="#4dbda5"/></svg><span><span class="o">I</span></span></div>
<div class="t c" style="left:299.5px;top:148.0px;width:30px"><span class="b">34</span></div>
<div class="t" style="left:353.6px;top:148.0px;letter-spacing:0.125px">Nepal</div>
<div class="t" style="left:463.1px;top:148.0px;"><span style="margin-right:-0.5px">5</span>.<span class="z">0</span>93</div>
<div class="rc" style="left:508.0px;top:148.0px;width:40px"><svg class="ar" width="10" height="12" viewBox="0 0 10 12"><path transform="translate(0.4 1.31)" d="M4.3 8.8 L8.6 4.5 L7.19 3.09 L5.35 4.93 V0.8 H3.25 V4.93 L1.41 3.09 L0 4.5 Z" fill="#4dbda5"/></svg><span><span class="o">I</span></span></div>
<div class="t c" style="left:299.5px;top:163.0px;width:30px"><span class="b">35</span></div>
<div class="t" style="left:353.6px;top:163.0px;">Indonesia</div>
<div class="t" style="left:463.1px;top:163.0px;"><span style="margin-right:-0.5px">5</span>.<span class="z">0</span>7</div>
<div class="rc" style="left:508.0px;top:163.0px;width:40px"><svg class="ar" width="10" height="12" viewBox="0 0 10 12"><path transform="translate(0.4 1.82)" d="M4.3 0.8 L8.6 5.1 L7.19 6.51 L5.35 4.67 V8.8 H3.25 V4.67 L1.41 6.51 L0 5.1 Z" fill="#ea1530"/></svg><span>7</span></div>
<div class="t c" style="left:299.5px;top:179.0px;width:30px"><span class="b">36</span></div>
<div class="t" style="left:353.6px;top:179.0px;letter-spacing:-0.18px">France</div>
<div class="t" style="left:463.1px;top:179.0px;"><span style="margin-right:-0.5px">5</span>.<span class="z">0</span><span class="z">0</span>8</div>
<div class="rc" style="left:508.0px;top:179.0px;width:40px"><svg class="ar" width="10" height="12" viewBox="0 0 10 12"><path transform="translate(0.4 1.34)" d="M4.3 8.8 L8.6 4.5 L7.19 3.09 L5.35 4.93 V0.8 H3.25 V4.93 L1.41 3.09 L0 4.5 Z" fill="#4dbda5"/></svg><span>6</span></div>
<div class="t c" style="left:299.5px;top:194.0px;width:30px"><span class="b">37</span></div>
<div class="t" style="left:353.6px;top:194.0px;letter-spacing:-0.48px">Russia</div>
<div class="t" style="left:463.1px;top:194.0px;"><span style="margin-right:-0.5px">4</span>.9</div>
<div class="rc" style="left:508.0px;top:194.0px;width:40px"><svg class="ar" width="10" height="12" viewBox="0 0 10 12"><path transform="translate(0.4 1.86)" d="M4.3 8.8 L8.6 4.5 L7.19 3.09 L5.35 4.93 V0.8 H3.25 V4.93 L1.41 3.09 L0 4.5 Z" fill="#4dbda5"/></svg><span>3</span></div>
<div class="t c" style="left:299.5px;top:210.0px;width:30px"><span class="b">38</span></div>
<div class="t" style="left:353.6px;top:210.0px;">Chad</div>
<div class="t" style="left:463.1px;top:210.0px;"><span style="margin-right:-0.5px">4</span>.<span style="margin-right:-0.4px">7</span>62</div>
<div class="rc" style="left:508.0px;top:210.0px;width:40px"><svg class="dar" width="17" height="12" viewBox="0 0 17 12"><g transform="translate(0 3.13)" fill="#0a0a0a"><path d="M1.1 3.5 L4.6 1.0 V6.0 Z M16.5 3.5 L13.0 1.0 V6.0 Z"/><rect x="4" y="2.4" width="9.5" height="2.2"/></g></svg></div>
<div class="t c" style="left:299.5px;top:225.0px;width:30px"><span class="b">39</span></div>
<div class="t" style="left:353.6px;top:225.0px;letter-spacing:-0.2px">Iran</div>
<div class="t" style="left:463.1px;top:225.0px;"><span style="margin-right:-0.5px">4</span>.<span style="margin-right:-0.4px">7</span><span class="o">I</span>7</div>
<div class="rc" style="left:508.0px;top:225.0px;width:40px"><svg class="ar" width="10" height="12" viewBox="0 0 10 12"><path transform="translate(0.4 1.89)" d="M4.3 0.8 L8.6 5.1 L7.19 6.51 L5.35 4.67 V8.8 H3.25 V4.67 L1.41 6.51 L0 5.1 Z" fill="#ea1530"/></svg><span>5</span></div>
<div class="t c" style="left:299.5px;top:241.0px;width:30px"><span class="b">4<span class="z">0</span></span></div>
<div class="t" style="left:353.6px;top:241.0px;">Israel</div>
<div class="t" style="left:463.1px;top:241.0px;"><span style="margin-right:-0.5px">4</span>.525</div>
<div class="rc" style="left:508.0px;top:241.0px;width:40px"><svg class="ar" width="10" height="12" viewBox="0 0 10 12"><path transform="translate(0.4 1.41)" d="M4.3 0.8 L8.6 5.1 L7.19 6.51 L5.35 4.67 V8.8 H3.25 V4.67 L1.41 6.51 L0 5.1 Z" fill="#ea1530"/></svg><span><span class="o">I</span></span></div>
<div class="t c" style="left:299.5px;top:256.0px;width:30px"><span class="b">4<span class="o">I</span></span></div>
<div class="t" style="left:353.6px;top:256.0px;letter-spacing:0.155px">South Africa</div>
<div class="t" style="left:463.1px;top:256.0px;"><span style="margin-right:-0.5px">4</span>.5<span class="o">I</span><span class="o">I</span></div>
<div class="rc" style="left:508.0px;top:256.0px;width:40px"><svg class="ar" width="10" height="12" viewBox="0 0 10 12"><path transform="translate(0.4 1.93)" d="M4.3 0.8 L8.6 5.1 L7.19 6.51 L5.35 4.67 V8.8 H3.25 V4.67 L1.41 6.51 L0 5.1 Z" fill="#ea1530"/></svg><span>5</span></div>
<div class="t c" style="left:299.5px;top:272.0px;width:30px"><span class="b">42</span></div>
<div class="t" style="left:353.6px;top:272.0px;letter-spacing:0.125px">China</div>
<div class="t" style="left:463.1px;top:272.0px;"><span style="margin-right:-0.5px">4</span>.465</div>
<div class="rc" style="left:508.0px;top:272.0px;width:40px"><svg class="ar" width="10" height="12" viewBox="0 0 10 12"><path transform="translate(0.4 1.45)" d="M4.3 8.8 L8.6 4.5 L7.19 3.09 L5.35 4.93 V0.8 H3.25 V4.93 L1.41 3.09 L0 4.5 Z" fill="#4dbda5"/></svg><span>6</span></div>
<div class="t c" style="left:299.5px;top:287.0px;width:30px"><span class="b">43</span></div>
<div class="t" style="left:353.6px;top:287.0px;">Lebanon</div>
<div class="t" style="left:463.1px;top:287.0px;"><span style="margin-right:-0.5px">4</span>.395</div>
<div class="rc" style="left:508.0px;top:287.0px;width:40px"><svg class="ar" width="10" height="12" viewBox="0 0 10 12"><path transform="translate(0.4 1.96)" d="M4.3 8.8 L8.6 4.5 L7.19 3.09 L5.35 4.93 V0.8 H3.25 V4.93 L1.41 3.09 L0 4.5 Z" fill="#4dbda5"/></svg><span>8</span></div>
<div class="t c" style="left:299.5px;top:303.0px;width:30px"><span class="b">44</span></div>
<div class="t" style="left:353.6px;top:303.0px;letter-spacing:-0.133px">Germany</div>
<div class="t" style="left:463.1px;top:303.0px;"><span style="margin-right:-0.5px">4</span>.254</div>
<div class="rc" style="left:508.0px;top:303.0px;width:40px"><svg class="ar" width="10" height="12" viewBox="0 0 10 12"><path transform="translate(0.4 1.48)" d="M4.3 8.8 L8.6 4.5 L7.19 3.09 L5.35 4.93 V0.8 H3.25 V4.93 L1.41 3.09 L0 4.5 Z" fill="#4dbda5"/></svg><span>5</span></div>
<div class="t c" style="left:299.5px;top:318.0px;width:30px"><span class="b">45</span></div>
<div class="t" style="left:353.6px;top:318.0px;">Greece</div>
<div class="t" style="left:463.1px;top:318.0px;"><span style="margin-right:-0.5px">4</span><span style="margin-right:-1.2px">.</span><span class="o">I</span>67</div>
<div class="rc" style="left:508.0px;top:318.0px;width:40px"><svg class="dar" width="17" height="12" viewBox="0 0 17 12"><g transform="translate(0 3.75)" fill="#0a0a0a"><path d="M1.1 3.5 L4.6 1.0 V6.0 Z M16.5 3.5 L13.0 1.0 V6.0 Z"/><rect x="4" y="2.4" width="9.5" height="2.2"/></g></svg></div>
<div class="t c" style="left:299.5px;top:334.0px;width:30px"><span class="b">46</span></div>
<div class="t" style="left:353.6px;top:334.0px;">Chile</div>
<div class="t" style="left:463.1px;top:334.0px;"><span style="margin-right:-0.5px">4</span><span style="margin-right:-1.2px">.</span><span class="o">I</span>23</div>
<div class="rc" style="left:508.0px;top:334.0px;width:40px"><svg class="ar" width="10" height="12" viewBox="0 0 10 12"><path transform="translate(0.4 1.52)" d="M4.3 0.8 L8.6 5.1 L7.19 6.51 L5.35 4.67 V8.8 H3.25 V4.67 L1.41 6.51 L0 5.1 Z" fill="#ea1530"/></svg><span><span class="o">I</span>2</span></div>
<div class="t c" style="left:299.5px;top:349.0px;width:30px"><span class="b">47</span></div>
<div class="t" style="left:353.6px;top:349.0px;letter-spacing:-0.087px">Venezuela</div>
<div class="t" style="left:463.1px;top:349.0px;"><span style="margin-right:-0.5px">4</span><span style="margin-right:-1.2px">.</span><span class="o">I</span><span class="z">0</span><span class="o">I</span></div>
<div class="rc" style="left:508.0px;top:349.0px;width:40px"><svg class="ar" width="10" height="12" viewBox="0 0 10 12"><path transform="translate(0.4 2.03)" d="M4.3 0.8 L8.6 5.1 L7.19 6.51 L5.35 4.67 V8.8 H3.25 V4.67 L1.41 6.51 L0 5.1 Z" fill="#ea1530"/></svg><span>8</span></div>
<div class="t c" style="left:299.5px;top:365.0px;width:30px"><span class="b">48</span></div>
<div class="t" style="left:353.6px;top:365.0px;letter-spacing:0.22px">Mexico</div>
<div class="t" style="left:463.1px;top:365.0px;"><span style="margin-right:-0.5px">4</span>.<span class="z">0</span>8</div>
<div class="rc" style="left:508.0px;top:365.0px;width:40px"><svg class="ar" width="10" height="12" viewBox="0 0 10 12"><path transform="translate(0.4 1.55)" d="M4.3 0.8 L8.6 5.1 L7.19 6.51 L5.35 4.67 V8.8 H3.25 V4.67 L1.41 6.51 L0 5.1 Z" fill="#ea1530"/></svg><span>8</span></div>
<div class="t c" style="left:299.5px;top:380.0px;width:30px"><span class="b">49</span></div>
<div class="t" style="left:353.6px;top:380.0px;">Uganda</div>
<div class="t" style="left:463.1px;top:380.0px;"><span style="margin-right:-0.5px">3</span>.957</div>
<div class="rc" style="left:508.0px;top:380.0px;width:40px"><svg class="ar" width="10" height="12" viewBox="0 0 10 12"><path transform="translate(0.4 2.07)" d="M4.3 0.8 L8.6 5.1 L7.19 6.51 L5.35 4.67 V8.8 H3.25 V4.67 L1.41 6.51 L0 5.1 Z" fill="#ea1530"/></svg><span>3</span></div>
<div class="t c" style="left:299.5px;top:396.0px;width:30px"><span class="b">5<span class="z">0</span></span></div>
<div class="t" style="left:353.6px;top:396.0px;letter-spacing:-0.122px">Tajikistan</div>
<div class="t" style="left:463.1px;top:396.0px;"><span style="margin-right:-0.5px">3</span>.947</div>
<div class="rc" style="left:508.0px;top:396.0px;width:40px"><svg class="ar" width="10" height="12" viewBox="0 0 10 12"><path transform="translate(0.4 1.58)" d="M4.3 0.8 L8.6 5.1 L7.19 6.51 L5.35 4.67 V8.8 H3.25 V4.67 L1.41 6.51 L0 5.1 Z" fill="#ea1530"/></svg><span>24</span></div>
<div class="t c" style="left:299.5px;top:411.0px;width:30px"><span class="b">5<span class="o">I</span></span></div>
<div class="t" style="left:353.6px;top:411.0px;letter-spacing:-0.233px">Tunisia</div>
<div class="t" style="left:463.1px;top:411.0px;"><span style="margin-right:-0.5px">3</span>.938</div>
<div class="rc" style="left:508.0px;top:411.0px;width:40px"><svg class="ar" width="10" height="12" viewBox="0 0 10 12"><path transform="translate(0.4 2.10)" d="M4.3 8.8 L8.6 4.5 L7.19 3.09 L5.35 4.93 V0.8 H3.25 V4.93 L1.41 3.09 L0 4.5 Z" fill="#4dbda5"/></svg><span>4</span></div>
<div class="t c" style="left:299.5px;top:427.0px;width:30px"><span class="b">52</span></div>
<div class="t" style="left:353.6px;top:427.0px;">Angola</div>
<div class="t" style="left:463.1px;top:427.0px;"><span style="margin-right:-0.5px">3</span>.<span style="margin-right:-0.4px">7</span>84</div>
<div class="rc" style="left:508.0px;top:427.0px;width:40px"><svg class="ar" width="10" height="12" viewBox="0 0 10 12"><path transform="translate(0.4 1.62)" d="M4.3 8.8 L8.6 4.5 L7.19 3.09 L5.35 4.93 V0.8 H3.25 V4.93 L1.41 3.09 L0 4.5 Z" fill="#4dbda5"/></svg><span>9</span></div>
<div class="t c" style="left:299.5px;top:442.0px;width:30px"><span class="b">53</span></div>
<div class="t" style="left:353.6px;top:442.0px;letter-spacing:0.1px">Belgium</div>
<div class="t" style="left:463.1px;top:442.0px;"><span style="margin-right:-0.5px">3</span>.636</div>
<div class="rc" style="left:508.0px;top:442.0px;width:40px"><svg class="ar" width="10" height="12" viewBox="0 0 10 12"><path transform="translate(0.4 2.14)" d="M4.3 8.8 L8.6 4.5 L7.19 3.09 L5.35 4.93 V0.8 H3.25 V4.93 L1.41 3.09 L0 4.5 Z" fill="#4dbda5"/></svg><span>5</span></div>
<div class="t c" style="left:299.5px;top:458.0px;width:30px"><span class="b">54</span></div>
<div class="t" style="left:353.6px;top:458.0px;letter-spacing:-0.28px">Canada</div>
<div class="t" style="left:463.1px;top:458.0px;"><span style="margin-right:-0.5px">3</span>.59<span class="o">I</span></div>
<div class="rc" style="left:508.0px;top:458.0px;width:40px"><svg class="ar" width="10" height="12" viewBox="0 0 10 12"><path transform="translate(0.4 1.65)" d="M4.3 0.8 L8.6 5.1 L7.19 6.51 L5.35 4.67 V8.8 H3.25 V4.67 L1.41 6.51 L0 5.1 Z" fill="#ea1530"/></svg><span>3</span></div>
<div class="t c" style="left:299.5px;top:474.0px;width:30px"><span class="b">55</span></div>
<div class="t" style="left:353.6px;top:474.0px;letter-spacing:-0.225px">Sri Lanka</div>
<div class="t" style="left:463.1px;top:474.0px;"><span style="margin-right:-0.5px">3</span>.569</div>
<div class="rc" style="left:508.0px;top:474.0px;width:40px"><svg class="ar" width="10" height="12" viewBox="0 0 10 12"><path transform="translate(0.4 1.17)" d="M4.3 8.8 L8.6 4.5 L7.19 3.09 L5.35 4.93 V0.8 H3.25 V4.93 L1.41 3.09 L0 4.5 Z" fill="#4dbda5"/></svg><span>6</span></div>
<div class="h" style="left:569.0px;top:30.7px;">RANK</div>
<div class="h" style="left:619.0px;top:30.7px;">COUNTRY</div>
<div class="h" style="left:725.9px;top:30.7px;letter-spacing:-0.3px">SCORE</div>
<div class="h" style="left:768.5px;top:30.7px;width:60px;text-align:center">CHANGE</div>
<div class="h" style="left:768.5px;top:20.8px;width:60px;text-align:center">RANK</div>
<div class="t c" style="left:568.5px;top:55.0px;width:30px"><span class="b">56</span></div>
<div class="t" style="left:622.7px;top:55.0px;">Sweden</div>
<div class="t" style="left:732.8px;top:55.0px;"><span style="margin-right:-0.5px">3</span>.45</div>
<div class="rc" style="left:776.8px;top:55.0px;width:40px"><svg class="ar" width="10" height="12" viewBox="0 0 10 12"><path transform="translate(0.4 1.20)" d="M4.3 8.8 L8.6 4.5 L7.19 3.09 L5.35 4.93 V0.8 H3.25 V4.93 L1.41 3.09 L0 4.5 Z" fill="#4dbda5"/></svg><span>5</span></div>
<div class="t c" style="left:568.5px;top:70.0px;width:30px"><span class="b">57</span></div>
<div class="t" style="left:622.7px;top:70.0px;">Algeria</div>
<div class="t" style="left:732.8px;top:70.0px;"><span style="margin-right:-0.5px">3</span>.4<span class="z">0</span>9</div>
<div class="rc" style="left:776.8px;top:70.0px;width:40px"><svg class="ar" width="10" height="12" viewBox="0 0 10 12"><path transform="translate(0.4 1.72)" d="M4.3 8.8 L8.6 4.5 L7.19 3.09 L5.35 4.93 V0.8 H3.25 V4.93 L1.41 3.09 L0 4.5 Z" fill="#4dbda5"/></svg><span>3</span></div>
<div class="t c" style="left:568.5px;top:86.0px;width:30px"><span class="b">58</span></div>
<div class="t" style="left:622.7px;top:86.0px;">Bolivia</div>
<div class="t" style="left:732.8px;top:86.0px;"><span style="margin-right:-0.5px">3</span>.387</div>
<div class="rc" style="left:776.8px;top:86.0px;width:40px"><svg class="ar" width="10" height="12" viewBox="0 0 10 12"><path transform="translate(0.4 1.23)" d="M4.3 0.8 L8.6 5.1 L7.19 6.51 L5.35 4.67 V8.8 H3.25 V4.67 L1.41 6.51 L0 5.1 Z" fill="#ea1530"/></svg><span>8<span class="z">0</span></span></div>
<div class="t c" style="left:568.5px;top:101.0px;width:30px"><span class="b">59</span></div>
<div class="t" style="left:622.7px;top:101.0px;">Spain</div>
<div class="t" style="left:732.8px;top:101.0px;"><span style="margin-right:-0.5px">3</span>.354</div>
<div class="rc" style="left:776.8px;top:101.0px;width:40px"><svg class="ar" width="10" height="12" viewBox="0 0 10 12"><path transform="translate(0.4 1.75)" d="M4.3 8.8 L8.6 4.5 L7.19 3.09 L5.35 4.93 V0.8 H3.25 V4.93 L1.41 3.09 L0 4.5 Z" fill="#4dbda5"/></svg><span>9</span></div>
<div class="t c" style="left:568.5px;top:117.0px;width:30px"><span class="b">6<span class="z">0</span></span></div>
<div class="t" style="left:622.7px;top:117.0px;letter-spacing:-0.143px">Tanzania</div>
<div class="t" style="left:732.8px;top:117.0px;"><span style="margin-right:-0.5px">3</span>.2<span style="margin-right:-0.4px">7</span>2</div>
<div class="rc" style="left:776.8px;top:117.0px;width:40px"><svg class="ar" width="10" height="12" viewBox="0 0 10 12"><path transform="translate(0.4 1.27)" d="M4.3 0.8 L8.6 5.1 L7.19 6.51 L5.35 4.67 V8.8 H3.25 V4.67 L1.41 6.51 L0 5.1 Z" fill="#ea1530"/></svg><span><span class="o">I</span></span></div>
<div class="t c" style="left:568.5px;top:132.0px;width:30px"><span class="b">6<span class="o">I</span></span></div>
<div class="t" style="left:622.7px;top:132.0px;">Bahrain</div>
<div class="t" style="left:732.8px;top:132.0px;"><span style="margin-right:-0.5px">3</span>.2<span class="z">0</span><span class="o">I</span></div>
<div class="rc" style="left:776.8px;top:132.0px;width:40px"><svg class="ar" width="10" height="12" viewBox="0 0 10 12"><path transform="translate(0.4 1.79)" d="M4.3 8.8 L8.6 4.5 L7.19 3.09 L5.35 4.93 V0.8 H3.25 V4.93 L1.41 3.09 L0 4.5 Z" fill="#4dbda5"/></svg><span>8</span></div>
<div class="t c" style="left:568.5px;top:148.0px;width:30px"><span class="b">62</span></div>
<div class="t" style="left:622.7px;top:148.0px;letter-spacing:-0.171px">Paraguay</div>
<div class="t" style="left:732.8px;top:148.0px;"><span style="margin-right:-0.5px">3</span><span style="margin-right:-1.2px">.</span><span class="o">I</span><span class="o">I</span>9</div>
<div class="rc" style="left:776.8px;top:148.0px;width:40px"><svg class="ar" width="10" height="12" viewBox="0 0 10 12"><path transform="translate(0.4 1.31)" d="M4.3 8.8 L8.6 4.5 L7.19 3.09 L5.35 4.93 V0.8 H3.25 V4.93 L1.41 3.09 L0 4.5 Z" fill="#4dbda5"/></svg><span>3</span></div>
<div class="t c" style="left:568.5px;top:163.0px;width:30px"><span class="b">63</span></div>
<div class="t" style="left:622.7px;top:163.0px;letter-spacing:0.2px">Italy</div>
<div class="t" style="left:732.8px;top:163.0px;"><span style="margin-right:-0.5px">3</span><span style="margin-right:-1.2px">.</span><span class="o">I</span><span class="z">0</span>9</div>
<div class="rc" style="left:776.8px;top:163.0px;width:40px"><svg class="ar" width="10" height="12" viewBox="0 0 10 12"><path transform="translate(0.4 1.82)" d="M4.3 0.8 L8.6 5.1 L7.19 6.51 L5.35 4.67 V8.8 H3.25 V4.67 L1.41 6.51 L0 5.1 Z" fill="#ea1530"/></svg><span>6</span></div>
<div class="t c" style="left:568.5px;top:179.0px;width:30px"><span class="b">64</span></div>
<div class="t" style="left:622.7px;top:179.0px;letter-spacing:-0.1px">Jordan</div>
<div class="t" style="left:732.8px;top:179.0px;"><span style="margin-right:-0.5px">3</span>.<span class="z">0</span>9<span class="o">I</span></div>
<div class="rc" style="left:776.8px;top:179.0px;width:40px"><svg class="ar" width="10" height="12" viewBox="0 0 10 12"><path transform="translate(0.4 1.34)" d="M4.3 8.8 L8.6 4.5 L7.19 3.09 L5.35 4.93 V0.8 H3.25 V4.93 L1.41 3.09 L0 4.5 Z" fill="#4dbda5"/></svg><span>4</span></div>
<div class="t c" style="left:568.5px;top:194.0px;width:30px"><span class="b">65</span></div>
<div class="t" style="left:622.7px;top:194.0px;">Nicaragua</div>
<div class="t" style="left:732.8px;top:194.0px;"><span style="margin-right:-0.5px">2</span>.952</div>
<div class="rc" style="left:776.8px;top:194.0px;width:40px"><svg class="ar" width="10" height="12" viewBox="0 0 10 12"><path transform="translate(0.4 1.86)" d="M4.3 0.8 L8.6 5.1 L7.19 6.51 L5.35 4.67 V8.8 H3.25 V4.67 L1.41 6.51 L0 5.1 Z" fill="#ea1530"/></svg><span>36</span></div>
<div class="t c" style="left:568.5px;top:210.0px;width:30px"><span class="b">66</span></div>
<div class="t" style="left:622.7px;top:210.0px;letter-spacing:-0.24px">Rwanda</div>
<div class="t" style="left:732.8px;top:210.0px;"><span style="margin-right:-0.5px">2</span>.948</div>
<div class="rc" style="left:776.8px;top:210.0px;width:40px"><svg class="ar" width="10" height="12" viewBox="0 0 10 12"><path transform="translate(0.4 1.38)" d="M4.3 0.8 L8.6 5.1 L7.19 6.51 L5.35 4.67 V8.8 H3.25 V4.67 L1.41 6.51 L0 5.1 Z" fill="#ea1530"/></svg><span><span class="o">I</span><span class="z">0</span></span></div>
<div class="t c" style="left:568.5px;top:225.0px;width:30px"><span class="b">67</span></div>
<div class="t" style="left:622.7px;top:225.0px;letter-spacing:-0.267px">Peru</div>
<div class="t" style="left:732.8px;top:225.0px;"><span style="margin-right:-0.5px">2</span>.84</div>
<div class="rc" style="left:776.8px;top:225.0px;width:40px"><svg class="ar" width="10" height="12" viewBox="0 0 10 12"><path transform="translate(0.4 1.89)" d="M4.3 8.8 L8.6 4.5 L7.19 3.09 L5.35 4.93 V0.8 H3.25 V4.93 L1.41 3.09 L0 4.5 Z" fill="#4dbda5"/></svg><span><span class="o">I</span></span></div>
<div class="t c" style="left:568.5px;top:241.0px;width:30px"><span class="b">68</span></div>
<div class="t" style="left:622.7px;top:241.0px;letter-spacing:0.143px">Zimbabwe</div>
<div class="t" style="left:732.8px;top:241.0px;"><span style="margin-right:-0.5px">2</span>.834</div>
<div class="rc" style="left:776.8px;top:241.0px;width:40px"><svg class="ar" width="10" height="12" viewBox="0 0 10 12"><path transform="translate(0.4 1.41)" d="M4.3 0.8 L8.6 5.1 L7.19 6.51 L5.35 4.67 V8.8 H3.25 V4.67 L1.41 6.51 L0 5.1 Z" fill="#ea1530"/></svg><span><span class="o">I</span>8</span></div>
<div class="t c" style="left:568.5px;top:256.0px;width:30px"><span class="b">69</span></div>
<div class="t" style="left:622.7px;top:256.0px;">Ireland</div>
<div class="t" style="left:732.8px;top:256.0px;"><span style="margin-right:-0.5px">2</span>.692</div>
<div class="rc" style="left:776.8px;top:256.0px;width:40px"><svg class="ar" width="10" height="12" viewBox="0 0 10 12"><path transform="translate(0.4 1.93)" d="M4.3 8.8 L8.6 4.5 L7.19 3.09 L5.35 4.93 V0.8 H3.25 V4.93 L1.41 3.09 L0 4.5 Z" fill="#4dbda5"/></svg><span>4</span></div>
<div class="t c" style="left:568.5px;top:280.0px;width:30px"><span class="b"><span style="margin-right:-0.4px">7</span><span class="z">0</span></span></div>
<div class="t" style="left:622.7px;top:273.0px;letter-spacing:0.129px">Republic of the</div>
<div class="t" style="left:622.7px;top:286.0px;letter-spacing:0.325px">Congo</div>
<div class="t" style="left:732.8px;top:280.0px;"><span style="margin-right:-0.5px">2</span>.687</div>
<div class="rc" style="left:776.8px;top:280.0px;width:40px"><svg class="ar" width="10" height="12" viewBox="0 0 10 12"><path transform="translate(0.4 1.37)" d="M4.3 8.8 L8.6 4.5 L7.19 3.09 L5.35 4.93 V0.8 H3.25 V4.93 L1.41 3.09 L0 4.5 Z" fill="#4dbda5"/></svg><span>9</span></div>
<div class="t c" style="left:568.5px;top:303.0px;width:30px"><span class="b"><span style="margin-right:-0.4px">7</span><span class="o">I</span></span></div>
<div class="t" style="left:622.7px;top:303.0px;letter-spacing:-0.063px">Australia</div>
<div class="t" style="left:732.8px;top:303.0px;"><span style="margin-right:-0.5px">2</span>.645</div>
<div class="rc" style="left:776.8px;top:303.0px;width:40px"><svg class="ar" width="10" height="12" viewBox="0 0 10 12"><path transform="translate(0.4 1.80)" d="M4.3 8.8 L8.6 4.5 L7.19 3.09 L5.35 4.93 V0.8 H3.25 V4.93 L1.41 3.09 L0 4.5 Z" fill="#4dbda5"/></svg><span>3</span></div>
<div class="t c" style="left:568.5px;top:319.0px;width:30px"><span class="b"><span style="margin-right:-0.4px">7</span>2</span></div>
<div class="t" style="left:622.7px;top:319.0px;letter-spacing:0.1px">Cote d' Ivoire</div>
<div class="t" style="left:732.8px;top:319.0px;"><span style="margin-right:-0.5px">2</span>.598</div>
<div class="rc" style="left:776.8px;top:319.0px;width:40px"><svg class="ar" width="10" height="12" viewBox="0 0 10 12"><path transform="translate(0.4 1.32)" d="M4.3 8.8 L8.6 4.5 L7.19 3.09 L5.35 4.93 V0.8 H3.25 V4.93 L1.41 3.09 L0 4.5 Z" fill="#4dbda5"/></svg><span>9</span></div>
<div class="t c" style="left:568.5px;top:334.0px;width:30px"><span class="b"><span style="margin-right:-0.4px">7</span>3</span></div>
<div class="t" style="left:622.7px;top:334.0px;">Brazil</div>
<div class="t" style="left:732.8px;top:334.0px;"><span style="margin-right:-0.5px">2</span>.53</div>
<div class="rc" style="left:776.8px;top:334.0px;width:40px"><svg class="ar" width="10" height="12" viewBox="0 0 10 12"><path transform="translate(0.4 1.84)" d="M4.3 0.8 L8.6 5.1 L7.19 6.51 L5.35 4.67 V8.8 H3.25 V4.67 L1.41 6.51 L0 5.1 Z" fill="#ea1530"/></svg><span><span class="o">I</span>7</span></div>
<div class="t c" style="left:568.5px;top:350.0px;width:30px"><span class="b"><span style="margin-right:-0.4px">7</span>4</span></div>
<div class="t" style="left:622.7px;top:350.0px;letter-spacing:-0.186px">Malaysia</div>
<div class="t" style="left:732.8px;top:350.0px;"><span style="margin-right:-0.5px">2</span>.495</div>
<div class="rc" style="left:776.8px;top:350.0px;width:40px"><svg class="ar" width="10" height="12" viewBox="0 0 10 12"><path transform="translate(0.4 1.35)" d="M4.3 8.8 L8.6 4.5 L7.19 3.09 L5.35 4.93 V0.8 H3.25 V4.93 L1.41 3.09 L0 4.5 Z" fill="#4dbda5"/></svg><span>4</span></div>
<div class="t c" style="left:568.5px;top:365.0px;width:30px"><span class="b"><span style="margin-right:-0.4px">7</span>5</span></div>
<div class="t" style="left:622.7px;top:365.0px;">Kuwait</div>
<div class="t" style="left:732.8px;top:365.0px;"><span style="margin-right:-0.5px">2</span>.487</div>
<div class="rc" style="left:776.8px;top:365.0px;width:40px"><svg class="ar" width="10" height="12" viewBox="0 0 10 12"><path transform="translate(0.4 1.87)" d="M4.3 8.8 L8.6 4.5 L7.19 3.09 L5.35 4.93 V0.8 H3.25 V4.93 L1.41 3.09 L0 4.5 Z" fill="#4dbda5"/></svg><span><span class="o">I</span><span class="o">I</span></span></div>
<div class="t c" style="left:568.5px;top:381.0px;width:30px"><span class="b"><span style="margin-right:-0.4px">7</span>6</span></div>
<div class="t" style="left:622.7px;top:381.0px;">Ecuador</div>
<div class="t" style="left:732.8px;top:381.0px;"><span style="margin-right:-0.5px">2</span>.455</div>
<div class="rc" style="left:776.8px;top:381.0px;width:40px"><svg class="ar" width="10" height="12" viewBox="0 0 10 12"><path transform="translate(0.4 1.39)" d="M4.3 0.8 L8.6 5.1 L7.19 6.51 L5.35 4.67 V8.8 H3.25 V4.67 L1.41 6.51 L0 5.1 Z" fill="#ea1530"/></svg><span><span class="o">I</span>2</span></div>
<div class="t c" style="left:568.5px;top:396.0px;width:30px"><span class="b"><span style="margin-right:-0.4px">7</span>7</span></div>
<div class="t" style="left:622.7px;top:396.0px;letter-spacing:0.13px">Netherlands</div>
<div class="t" style="left:732.8px;top:396.0px;"><span style="margin-right:-0.5px">2</span>.347</div>
<div class="rc" style="left:776.8px;top:396.0px;width:40px"><svg class="ar" width="10" height="12" viewBox="0 0 10 12"><path transform="translate(0.4 1.91)" d="M4.3 0.8 L8.6 5.1 L7.19 6.51 L5.35 4.67 V8.8 H3.25 V4.67 L1.41 6.51 L0 5.1 Z" fill="#ea1530"/></svg><span><span class="o">I</span></span></div>
<div class="t c" style="left:568.5px;top:412.0px;width:30px"><span class="b"><span style="margin-right:-0.4px">7</span>8</span></div>
<div class="t" style="left:622.7px;top:412.0px;letter-spacing:-0.15px">Japan</div>
<div class="t" style="left:732.8px;top:412.0px;"><span style="margin-right:-0.5px">2</span>.29<span class="o">I</span></div>
<div class="rc" style="left:776.8px;top:412.0px;width:40px"><svg class="ar" width="10" height="12" viewBox="0 0 10 12"><path transform="translate(0.4 1.42)" d="M4.3 8.8 L8.6 4.5 L7.19 3.09 L5.35 4.93 V0.8 H3.25 V4.93 L1.41 3.09 L0 4.5 Z" fill="#4dbda5"/></svg><span><span class="o">I</span><span class="o">I</span></span></div>
<div class="t c" style="left:568.5px;top:427.0px;width:30px"><span class="b"><span style="margin-right:-0.4px">7</span>9</span></div>
<div class="t" style="left:622.7px;top:427.0px;">Kosovo</div>
<div class="t" style="left:732.8px;top:427.0px;"><span style="margin-right:-0.5px">2</span>.255</div>
<div class="rc" style="left:776.8px;top:427.0px;width:40px"><svg class="ar" width="10" height="12" viewBox="0 0 10 12"><path transform="translate(0.4 1.94)" d="M4.3 8.8 L8.6 4.5 L7.19 3.09 L5.35 4.93 V0.8 H3.25 V4.93 L1.41 3.09 L0 4.5 Z" fill="#4dbda5"/></svg><span>8</span></div>
<div class="t c" style="left:568.5px;top:443.0px;width:30px"><span class="b">8<span class="z">0</span></span></div>
<div class="t" style="left:622.7px;top:443.0px;letter-spacing:0.175px">Haiti</div>
<div class="t" style="left:732.8px;top:443.0px;"><span style="margin-right:-0.5px">2</span><span style="margin-right:-1.2px">.</span><span class="o">I</span>8</div>
<div class="rc" style="left:776.8px;top:443.0px;width:40px"><svg class="ar" width="10" height="12" viewBox="0 0 10 12"><path transform="translate(0.4 1.46)" d="M4.3 0.8 L8.6 5.1 L7.19 6.51 L5.35 4.67 V8.8 H3.25 V4.67 L1.41 6.51 L0 5.1 Z" fill="#ea1530"/></svg><span><span class="o">I</span></span></div>
<div class="t c" style="left:568.5px;top:458.0px;width:30px"><span class="b">8<span class="o">I</span></span></div>
<div class="t" style="left:622.7px;top:458.0px;letter-spacing:0.117px">Finland</div>
<div class="t" style="left:732.8px;top:458.0px;"><span style="margin-right:-0.5px">2</span>.<span class="z">0</span>26</div>
<div class="rc" style="left:776.8px;top:458.0px;width:40px"><svg class="ar" width="10" height="12" viewBox="0 0 10 12"><path transform="translate(0.4 1.97)" d="M4.3 8.8 L8.6 4.5 L7.19 3.09 L5.35 4.93 V0.8 H3.25 V4.93 L1.41 3.09 L0 4.5 Z" fill="#4dbda5"/></svg><span>8</span></div>
<div class="t c" style="left:568.5px;top:474.0px;width:30px"><span class="b">82</span></div>
<div class="t" style="left:622.7px;top:474.0px;">Madagascar</div>
<div class="t" style="left:732.8px;top:474.0px;"><span class="o">I</span>.957</div>
<div class="rc" style="left:776.8px;top:474.0px;width:40px"><svg class="ar" width="10" height="12" viewBox="0 0 10 12"><path transform="translate(0.4 1.49)" d="M4.3 8.8 L8.6 4.5 L7.19 3.09 L5.35 4.93 V0.8 H3.25 V4.93 L1.41 3.09 L0 4.5 Z" fill="#4dbda5"/></svg><span><span class="o">I</span><span class="z">0</span></span></div>
</body></html>
